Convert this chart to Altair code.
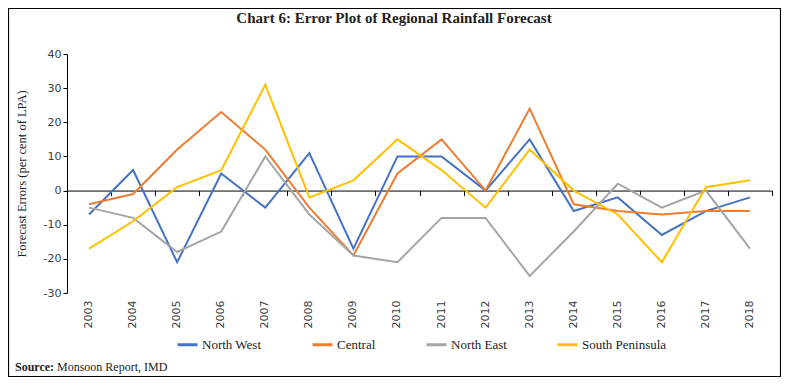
import altair as alt
import pandas as pd

years = ["2003", "2004", "2005", "2006", "2007", "2008", "2009", "2010",
         "2011", "2012", "2013", "2014", "2015", "2016", "2017", "2018"]
regions = ["North West", "Central", "North East", "South Peninsula"]
colors = ["#4472C4", "#ED7D31", "#A5A5A5", "#FFC000"]

north_west = [-7, 6, -21, 5, -5, 11, -17, 10, 10, 0, 15, -6, -2, -13, -6, -2]
central = [-4, -1, 12, 23, 12, -5, -19, 5, 15, 0, 24, -4, -6, -7, -6, -6]
north_east = [-5, -8, -18, -12, 10, -7, -19, -21, -8, -8, -25, -12, 2, -5, 0, -17]
south_peninsula = [-17, -9, 1, 6, 31, -2, 3, 15, 6, -5, 12, 0, -7, -21, 1, 3]

y_ticks = [-30, -20, -10, 0, 10, 20, 30, 40]
title_text = "Chart 6: Error Plot of Regional Rainfall Forecast"
y_title = "Forecast Errors (per cent of LPA)"
source_bold = "Source:"
source_rest = "Monsoon Report, IMD"

rows = []
for name, vals in zip(regions, [north_west, central, north_east, south_peninsula]):
    for yr, v in zip(years, vals):
        rows.append({"Year": yr, "Value": v, "Region": name})
df = pd.DataFrame(rows)

W, H = 705, 239
SERIF = "Liberation Serif"
SANS = "DejaVu Sans"

xscale = alt.Scale(type="band", paddingInner=0, paddingOuter=0, domain=years)

lines = alt.Chart(df).mark_line(strokeWidth=2).encode(
    x=alt.X("Year:N", sort=years, scale=xscale, bandPosition=0.5,
            axis=alt.Axis(orient="bottom", title=None, labelAngle=-90, domain=False,
                          ticks=False, labelPadding=7, labelFont=SANS, labelFontSize=11,
                          labelColor="#404040")),
    y=alt.Y("Value:Q", scale=alt.Scale(domain=[-30, 40], nice=False, zero=False),
            axis=alt.Axis(values=y_ticks, grid=False, title=y_title, titleFont=SERIF,
                          titleFontSize=12.5, titleFontWeight="normal", titleColor="#222222",
                          titlePadding=15, labelFont=SANS, labelFontSize=11,
                          labelExpr="toString(datum.value)",
                          labelColor="#404040", labelPadding=2, tickSize=4,
                          tickColor="black", domainColor="black")),
    color=alt.Color("Region:N", sort=regions,
                    scale=alt.Scale(domain=regions, range=colors),
                    legend=alt.Legend(title=None, orient="none", legendX=109, legendY=279,
                                      direction="horizontal", columns=4, symbolType="stroke",
                                      symbolStrokeWidth=3, symbolSize=400, labelFont=SERIF,
                                      labelFontSize=13, labelColor="#222222", labelOffset=3,
                                      columnPadding=44, padding=0)),
)

zero_axis = alt.Chart(df).mark_rule(opacity=0).encode(
    x=alt.X("Year:N", sort=years, scale=xscale,
            axis=alt.Axis(orient="bottom", offset=-H * 30 / 70, labels=False, title=None,
                          domain=True, ticks=True, tickBand="extent", tickSize=5,
                          domainColor="black", tickColor="black")),
)

one = pd.DataFrame({"a": [0]})

frame = alt.Chart(one).mark_rect(fill=None, stroke="black", strokeWidth=1.2).encode(
    x=alt.value(-58.5), x2=alt.value(W + 8.5), y=alt.value(-45.5), y2=alt.value(H + 83.5)
)

title = alt.Chart(one).mark_text(font=SERIF, fontSize=15, fontWeight="bold",
                                 color="#222222", baseline="middle", align="center").encode(
    x=alt.value(327), y=alt.value(-36), text=alt.value(title_text)
)

src1 = alt.Chart(one).mark_text(font=SERIF, fontSize=12, fontWeight="bold",
                                color="#222222", baseline="middle", align="left").encode(
    x=alt.value(-52), y=alt.value(313), text=alt.value(source_bold)
)
src2 = alt.Chart(one).mark_text(font=SERIF, fontSize=12, color="#222222",
                                baseline="middle", align="left").encode(
    x=alt.value(-10), y=alt.value(313), text=alt.value(source_rest)
)

chart = alt.layer(zero_axis, lines, frame, title, src1, src2).resolve_axis(
    x="independent"
).properties(
    width=W, height=H,
    autosize=alt.AutoSizeParams(type="none"),
    padding={"left": 59, "top": 46, "right": 9, "bottom": 84},
    background="white",
).configure_view(stroke=None)

chart.save("out.html", embed_options={"renderer": "svg", "actions": False})
